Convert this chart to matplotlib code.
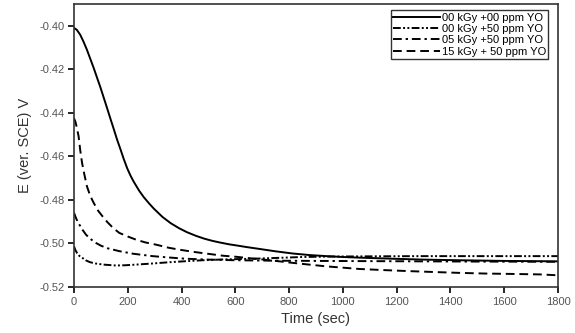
import matplotlib
matplotlib.use("Agg")
import matplotlib.pyplot as plt

plt.rcParams['font.family'] = ['Liberation Sans', 'DejaVu Sans']

# open-circuit potential (V vs SCE) against immersion time (s)
t_a = [0, 10, 23, 35, 48, 60, 73, 85, 98, 110, 123, 135, 148, 160, 173, 185, 198, 210, 222,
       242, 260, 280, 297, 329, 360, 391, 420, 454, 485, 515, 545, 578, 610, 640, 690, 750,
       814, 875, 938, 1000, 1062, 1186, 1300, 1435, 1600, 1800]
e_a = [-0.4010, -0.4018, -0.4041, -0.4072, -0.4110, -0.4150, -0.4193, -0.4236, -0.4282,
       -0.4328, -0.4378, -0.4425, -0.4475, -0.4522, -0.4568, -0.4612, -0.4655, -0.4688,
       -0.4716, -0.4757, -0.4788, -0.4817, -0.4840, -0.4878, -0.4907, -0.4930, -0.4948,
       -0.4965, -0.4978, -0.4988, -0.4996, -0.5004, -0.5010, -0.5016, -0.5025, -0.5036,
       -0.5046, -0.5053, -0.5058, -0.5062, -0.5065, -0.5070, -0.5074, -0.5077, -0.5080,
       -0.5082]

t_b = [0, 5, 12, 20, 31, 45, 60, 81, 110, 155, 190, 230, 290, 354, 420, 478, 560, 665,
       760, 850, 950, 1100, 1300, 1500, 1800]
e_b = [-0.5013, -0.5030, -0.5045, -0.5057, -0.5066, -0.5078, -0.5086, -0.5092, -0.5097,
       -0.5101, -0.5100, -0.5097, -0.5092, -0.5086, -0.5081, -0.5077, -0.5073, -0.5070,
       -0.5066, -0.5062, -0.5060, -0.5059, -0.5058, -0.5058, -0.5058]

t_c = [0, 8, 16, 31, 45, 60, 81, 100, 125, 168, 220, 292, 350, 416, 500, 603, 750, 900,
       1100, 1300, 1500, 1800]
e_c = [-0.4859, -0.4885, -0.4905, -0.4936, -0.4960, -0.4978, -0.4997, -0.5010, -0.5022,
       -0.5035, -0.5047, -0.5058, -0.5064, -0.5070, -0.5074, -0.5077, -0.5079, -0.5080,
       -0.5081, -0.5082, -0.5083, -0.5084]

t_d = [0, 5, 10, 17, 23, 30, 38, 48, 60, 73, 90, 106, 125, 145, 168, 200, 230, 265, 304,
       354, 400, 454, 503, 553, 603, 640, 690, 750, 814, 875, 938, 1000, 1062, 1150, 1249,
       1340, 1435, 1530, 1640, 1733, 1800]
e_d = [-0.4425, -0.4440, -0.4465, -0.4507, -0.4570, -0.4630, -0.4680, -0.4737, -0.4780,
       -0.4813, -0.4850, -0.4875, -0.4903, -0.4928, -0.4951, -0.4968, -0.4982, -0.4995,
       -0.5005, -0.5020, -0.5030, -0.5040, -0.5048, -0.5056, -0.5061, -0.5066, -0.5072,
       -0.5080, -0.5089, -0.5097, -0.5105, -0.5111, -0.5117, -0.5122, -0.5127, -0.5131,
       -0.5135, -0.5138, -0.5140, -0.5142, -0.5146]

labels = ["00 kGy +00 ppm YO", "00 kGy +50 ppm YO", "05 kGy +50 ppm YO", "15 kGy + 50 ppm YO"]
y_ticks = [-0.52, -0.50, -0.48, -0.46, -0.44, -0.42, -0.40]
x_ticks = [0, 200, 400, 600, 800, 1000, 1200, 1400, 1600, 1800]

fig = plt.figure(figsize=(5.75, 3.33), dpi=100)
ax = fig.add_axes([0.1287, 0.138, 0.8417, 0.850])

styles = ['-',
          (0, (4, 1.2, 1, 1.2, 1, 1.2)),
          (0, (4.5, 2, 1.2, 2)),
          (0, (4.5, 2.5))]
series = [(t_a, e_a), (t_b, e_b), (t_c, e_c), (t_d, e_d)]
for (t, e), ls, lab in zip(series, styles, labels):
    ax.plot(t, e, color='black', lw=1.4, linestyle=ls, label=lab)

ax.set_xlim(0, 1800)
ax.set_ylim(-0.52, -0.39)
ax.set_xticks(x_ticks)
ax.set_yticks(y_ticks)
ax.set_yticklabels(["%.2f" % v for v in y_ticks])
ax.tick_params(direction='out', length=4, width=1.2, labelsize=8, labelcolor='#555555', pad=3)
for s in ax.spines.values():
    s.set_linewidth(1.2)
    s.set_color('#333333')

ax.set_xlabel("Time (sec)", fontsize=10.5, color='#333333', labelpad=4)
ax.set_ylabel("E (ver. SCE) V", fontsize=10.5, color='#333333', labelpad=5)

leg = ax.legend(loc='upper right', bbox_to_anchor=(0.985, 0.985), fontsize=8,
                frameon=True, fancybox=False, edgecolor='black', handlelength=4.2,
                handletextpad=0.2, borderpad=0.2, labelspacing=0.12, borderaxespad=0.2)
leg.get_frame().set_linewidth(1.0)

fig.savefig("out.png", dpi=100)
